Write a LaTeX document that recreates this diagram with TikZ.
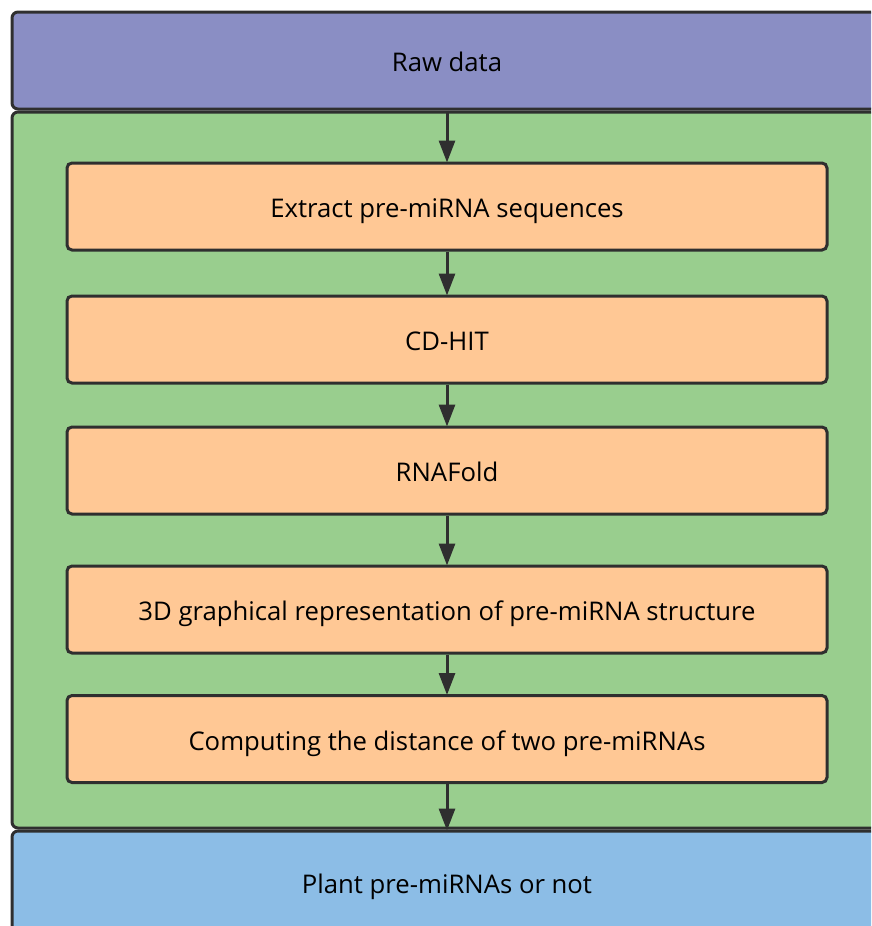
\documentclass[tikz,border=0pt]{standalone}
\usepackage{fontspec}
\setmainfont{Open Sans}
\usetikzlibrary{arrows.meta}
\definecolor{cpurple}{HTML}{8A8EC4}
\definecolor{cgreen}{HTML}{99CE8E}
\definecolor{corange}{HTML}{FFC895}
\definecolor{cblue}{HTML}{8CBDE6}
\definecolor{cline}{HTML}{2F2F2F}
\tikzset{
  txt/.style={font=\fontsize{25.7}{30}\selectfont, text height=25pt, text depth=3pt},
  outerbox/.style={draw=cline, line width=3pt, rounded corners=6pt, minimum width=870pt, inner sep=0pt, txt},
  stepbox/.style={draw=cline, fill=corange, line width=3pt, rounded corners=5pt, minimum width=760pt, minimum height=87pt, inner sep=0pt, txt},
  flow/.style={draw=cline, line width=3pt, -{Triangle[length=22pt,width=16pt]}, shorten >=-1pt}
}
\begin{document}
\begin{tikzpicture}[x=1pt,y=-1pt]
\useasboundingbox (0,0) rectangle (871,926);
\clip (0,0) rectangle (871,926);
\node[outerbox, fill=cpurple, minimum height=97pt] (raw) at (447,60.5) {Raw data};
\node[outerbox, fill=cgreen, minimum height=716pt] (proc) at (447,470) {};
\node[outerbox, fill=cblue, minimum height=102pt] (out) at (447,882) {Plant pre-miRNAs or not};
\node[stepbox] (s1) at (447,206.5) {Extract pre-miRNA sequences};
\node[stepbox] (s2) at (447,339.5) {CD-HIT};
\node[stepbox] (s3) at (447,470.5) {RNAFold};
\node[stepbox] (s4) at (447,609.5) {3D graphical representation of pre-miRNA structure};
\node[stepbox] (s5) at (447,739) {Computing the distance of two pre-miRNAs};
\draw[flow] (raw.south) -- (s1.north);
\draw[flow] (s1.south) -- (s2.north);
\draw[flow] (s2.south) -- (s3.north);
\draw[flow] (s3.south) -- (s4.north);
\draw[flow] (s4.south) -- (s5.north);
\draw[flow] (s5.south) -- (out.north);
\end{tikzpicture}
\end{document}
